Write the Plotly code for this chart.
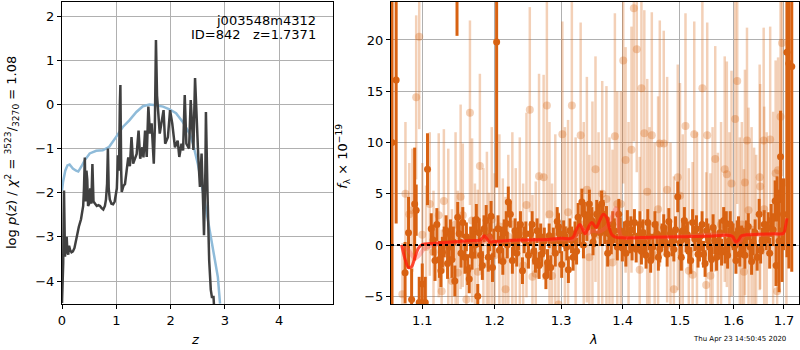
import plotly.graph_objects as go

# ---------------- left panel: p(z) ----------------
z_pz = [0.000, 0.010, 0.022, 0.030, 0.037, 0.045, 0.055, 0.070, 0.086, 0.100, 0.115, 0.130, 0.150, 0.175,
        0.200, 0.230, 0.260, 0.290, 0.310, 0.350, 0.390, 0.405, 0.420, 0.435, 0.450, 0.465, 0.480, 0.500,
        0.520, 0.540, 0.560, 0.580, 0.610, 0.640, 0.670, 0.700, 0.730, 0.760, 0.790, 0.810, 0.830, 0.845,
        0.860, 0.880, 0.910, 0.940, 0.970, 0.990, 1.010, 1.030, 1.050, 1.065, 1.075, 1.090, 1.100, 1.130,
        1.160, 1.190, 1.220, 1.250, 1.280, 1.310, 1.340, 1.375, 1.410, 1.440, 1.480, 1.500, 1.530, 1.560,
        1.590, 1.620, 1.650, 1.690, 1.710, 1.730, 1.750, 1.770, 1.800, 1.830, 1.870, 1.900, 1.950, 1.990,
        2.030, 2.080, 2.130, 2.160, 2.200, 2.230, 2.260, 2.290, 2.340, 2.370, 2.400, 2.420, 2.450, 2.480,
        2.510, 2.540, 2.570, 2.600, 2.615, 2.640, 2.650, 2.680, 2.710, 2.740, 2.760, 2.790, 2.810]
logp = [-4.5, -4.2, -3.6, -2.6, -1.95, -2.6, -3.45, -3.2, -3.0, -3.35, -3.4, -3.2, -3.3, -3.35,
        -3.33, -3.25, -3.05, -2.9, -2.77, -2.6, -2.3, -1.9, -1.2, -2.2, -1.5, -1.7, -2.3, -2.25,
        -1.9, -2.25, -1.35, -2.2, -2.25, -2.3, -2.28, -2.3, -2.35, -2.38, -2.3, -2.15, -1.8, -1.0,
        -1.9, -2.15, -2.25, -2.26, -2.2, -2.0, -1.9, -1.15, -1.5, 0.0, 0.44, -1.5, -1.98, -1.85,
        -1.8, -1.5, -1.2, -1.4, -0.74, -1.34, -1.25, -1.12, -0.59, -1.23, -0.97, -1.2, -0.59, -1.19,
        -0.05, -0.66, -0.43, -1.34, -0.5, 1.46, 0.2, -0.21, -0.66, -0.43, -0.13, -0.89, -0.74, -0.13,
        -0.43, -0.97, -0.82, -1.19, -0.89, -1.04, 0.21, -0.89, -1.0, 0.1, -0.6, -1.03, 0.6, -0.51,
        -1.2, -1.87, -1.11, -2.3, -2.96, -1.5, -0.17, -2.04, -3.53, -4.2, -4.36, -4.36, -4.8]

z_prior = [0.00, 0.02, 0.06, 0.10, 0.14, 0.20, 0.26, 0.30, 0.36, 0.42, 0.51, 0.63, 0.75, 0.87, 1.00,
           1.12, 1.24, 1.37, 1.49, 1.61, 1.73, 1.86, 1.98, 2.10, 2.22, 2.35, 2.41, 2.50, 2.59, 2.68,
           2.77, 2.87, 2.91]
logp_prior = [-1.95, -1.75, -1.5, -1.38, -1.36, -1.45, -1.5, -1.52, -1.4, -1.26, -1.11, -1.05, -1.04,
              -0.96, -0.73, -0.51, -0.36, -0.17, -0.04, 0.0, -0.02, -0.05, -0.11, -0.2, -0.39, -0.66,
              -0.88, -1.34, -1.94, -2.55, -3.23, -3.91, -4.51]

# ---------------- right panel: spectrum ----------------
lam_a = [1.0607, 1.066, 1.0775, 1.082, 1.086, 1.090, 1.092, 1.096, 1.100, 1.104, 1.107, 1.112, 1.117,
         1.123, 1.127, 1.132, 1.136, 1.140, 1.144, 1.147, 1.148, 1.150, 1.155, 1.158, 1.162, 1.166,
         1.170, 1.174, 1.176, 1.180, 1.185, 1.188, 1.191, 1.195, 1.199, 1.203, 1.207, 1.210, 1.214,
         1.217, 1.220, 1.223, 1.226, 1.230, 1.235, 1.241, 1.246, 1.250, 1.253, 1.258, 1.263, 1.266,
         1.270, 1.274, 1.279, 1.284, 1.288, 1.294, 1.298, 1.304, 1.309, 1.314, 1.319, 1.322, 1.327,
         1.330, 1.333, 1.337, 1.341, 1.345, 1.349, 1.353, 1.357, 1.361, 1.365, 1.370, 1.373, 1.377,
         1.381, 1.386, 1.391, 1.396, 1.403, 1.408, 1.412, 1.416, 1.420, 1.427, 1.432, 1.437, 1.443,
         1.448, 1.452, 1.459, 1.464, 1.468, 1.471, 1.477, 1.483, 1.489, 1.496, 1.500, 1.505, 1.511,
         1.516, 1.523, 1.527, 1.533, 1.538, 1.543, 1.549, 1.554, 1.558, 1.564, 1.571, 1.577, 1.581,
         1.586, 1.591, 1.596, 1.602, 1.607, 1.612, 1.619, 1.625, 1.632, 1.638, 1.646, 1.650, 1.656,
         1.664, 1.668, 1.674, 1.682, 1.686, 1.690, 1.693, 1.696, 1.699, 1.706, 1.710, 1.716]
flux_a = [10.0, 16.1, -2.7, 1.2, -5.3, 4.0, 3.4, -5.6, -3.8, -5.6, 7.4, 1.6, -1.5,
          -1.4, -0.7, 1.4, -0.2, -1.4, -3.5, 25.0, 2.7, 1.1, 2.2, -1.2, -2.4, 0.4,
          1.4, 2.5, -5.0, -1.0, 1.6, 2.4, -1.2, 2.8, 0.2, 19.8, -0.5, 0.6, 1.2,
          2.1, 4.2, 3.0, -1.5, 1.4, 0.9, -2.5, 1.1, -1.0, 1.1, -0.6, 1.4, -2.0,
          -0.9, 0.4, -1.7, -2.2, 0.4, 2.3, 0.4, 1.1, -0.2, 1.4, -1.2, 1.1, 2.7,
          1.4, 4.2, 3.0, 1.7, 4.0, 2.4, 1.1, 3.0, 2.7, 4.0, 1.4, 2.5, 1.1,
          0.4, 1.4, -0.2, 1.4, 1.1, 2.1, 0.4, -0.2, 2.2, 0.9, -0.6, 0.3, 2.2,
          -1.5, -0.2, 1.1, -0.4, 0.9, 1.7, -0.9, 1.1, -0.4, 4.7, 0.2, 1.4, 0.6,
          -0.6, 2.2, 0.6, -0.9, 0.9, -0.9, 1.4, -0.1, -1.4, 0.4, -0.2, -0.7, 2.4,
          2.1, 0.4, 1.1, -0.1, 1.1, -0.9, 0.4, 1.1, -0.2, 0.3, -1.2, 3.0, 0.4,
          0.9, 1.7, 2.4, 4.3, 4.5, 0.4, 8.6, 1.4, 3.0, 18.8, 17.7, 17.4]
err_a = [30.0, 14.0, 3.0, 3.5, 3.0, 5.5, 2.5, 2.5, 2.0, 2.5, 3.5, 1.5, 2.0,
         1.8, 1.5, 1.5, 1.6, 1.8, 1.5, 4.6, 1.5, 1.2, 1.5, 1.6, 1.5, 1.4,
         1.3, 1.5, 1.2, 1.5, 1.3, 1.5, 1.4, 1.5, 1.4, 14.2, 1.3, 1.2, 1.3,
         1.2, 1.5, 1.3, 1.3, 1.2, 1.4, 1.3, 1.2, 1.3, 1.2, 1.3, 1.2, 1.3,
         1.2, 1.3, 1.3, 1.2, 1.3, 1.4, 1.2, 1.3, 1.3, 1.2, 1.3, 1.2, 1.4,
         1.3, 1.3, 1.2, 1.3, 1.4, 1.3, 1.3, 1.4, 1.3, 1.3, 1.3, 1.3, 1.2,
         1.3, 1.2, 1.3, 1.3, 1.2, 1.3, 1.2, 1.3, 1.3, 1.2, 1.3, 1.2, 1.3,
         1.2, 1.3, 1.2, 1.3, 1.2, 1.3, 1.2, 1.3, 1.2, 1.5, 1.3, 1.2, 1.3,
         1.2, 1.3, 1.2, 1.3, 1.2, 1.3, 1.2, 1.3, 1.2, 1.3, 1.2, 1.3, 1.3,
         1.2, 1.3, 1.2, 1.3, 1.3, 1.2, 1.3, 1.3, 1.2, 1.3, 1.3, 1.5, 1.3,
         1.4, 1.5, 1.6, 2.0, 2.2, 5.0, 4.5, 5.0, 3.5, 20.0, 20.0, 20.0]

# second set of the same grism (interleaved pixels)
lam_a2 = [1.1145, 1.1195, 1.1250, 1.1295, 1.1340, 1.1380, 1.1420, 1.1525, 1.1600, 1.1640, 1.1680,
          1.1720, 1.1780, 1.1825, 1.1930, 1.1970, 1.2050, 1.2120, 1.2185, 1.2280, 1.2325, 1.2380,
          1.2435, 1.2555, 1.2605, 1.2685, 1.2765, 1.2815, 1.2910, 1.2960, 1.3010, 1.3065, 1.3115,
          1.3165, 1.3245, 1.3355, 1.3430, 1.3510, 1.3630, 1.3675, 1.3750, 1.3835, 1.3935, 1.3995,
          1.4055, 1.4140, 1.4230, 1.4295, 1.4345, 1.4400, 1.4455, 1.4555, 1.4615, 1.4740, 1.4800,
          1.4860, 1.4920, 1.5025, 1.5080, 1.5135, 1.5195, 1.5300, 1.5355, 1.5405, 1.5460, 1.5515,
          1.5610, 1.5675, 1.5740, 1.5835, 1.5885, 1.5935, 1.5990, 1.6045, 1.6095, 1.6155, 1.6220,
          1.6285, 1.6350, 1.6420, 1.6530, 1.6600, 1.6710, 1.6780, 1.6840]
flux_a2 = [0.5, 2.0, -2.5, 0.3, -1.8, 1.0, 0.3, -0.8, 0.8, -3.3, -1.0,
           0.0, 1.2, -2.0, 0.8, -2.2, 1.6, -1.6, 0.0, 0.3, -0.8, 2.0,
           0.5, 2.0, -1.5, 0.8, -3.0, 0.9, -0.8, 1.8, -1.9, 0.6, -2.4,
           0.5, -0.6, 0.0, 2.8, 0.3, 1.2, 3.0, -0.8, 2.0, 3.0, -0.3,
           -0.8, 1.5, -0.4, 2.0, 1.2, -1.0, 0.8, 2.0, -1.2, 0.3, 2.3,
           0.2, 1.5, -1.2, 2.4, 1.0, -1.5, 1.6, -0.3, 2.0, -1.8, 0.8,
           1.7, -1.2, 1.2, -0.5, -1.0, 2.0, 0.8, -1.5, 1.5, 0.6, -1.0,
           1.8, -1.6, 1.2, -0.5, 2.0, -0.8, 1.5, -2.0]
err_a2 = [1.5, 1.6, 1.6, 1.5, 1.5, 1.5, 1.5, 1.4, 1.4, 1.4, 1.4,
          1.3, 1.4, 1.4, 1.4, 1.4, 1.3, 1.3, 1.3, 1.3, 1.3, 1.3,
          1.3, 1.3, 1.2, 1.3, 1.3, 1.2, 1.3, 1.3, 1.3, 1.2, 1.3,
          1.3, 1.3, 1.3, 1.3, 1.3, 1.3, 1.4, 1.3, 1.3, 1.5, 1.3,
          1.3, 1.3, 1.3, 1.3, 1.3, 1.3, 1.3, 1.3, 1.3, 1.3, 1.3,
          1.3, 1.3, 1.3, 1.3, 1.3, 1.3, 1.3, 1.3, 1.3, 1.3, 1.3,
          1.3, 1.3, 1.3, 1.3, 1.3, 1.3, 1.3, 1.3, 1.3, 1.3, 1.3,
          1.3, 1.3, 1.3, 1.3, 1.4, 1.5, 1.6, 2.0]

lam_b = [1.074, 1.078, 1.083, 1.087, 1.092, 1.096, 1.100, 1.105, 1.110, 1.115, 1.122, 1.126, 1.129,
         1.135, 1.140, 1.145, 1.148, 1.152, 1.155, 1.160, 1.165, 1.168, 1.172, 1.176, 1.179, 1.184,
         1.189, 1.192, 1.196, 1.200, 1.207, 1.212, 1.216, 1.220, 1.226, 1.231, 1.237, 1.242, 1.247,
         1.252, 1.256, 1.261, 1.266, 1.273, 1.278, 1.282, 1.286, 1.291, 1.296, 1.302, 1.306, 1.311,
         1.317, 1.323, 1.331, 1.336, 1.341, 1.345, 1.350, 1.355, 1.360, 1.366, 1.373, 1.378, 1.383,
         1.387, 1.391, 1.397, 1.401, 1.405, 1.410, 1.415, 1.419, 1.424, 1.429, 1.432, 1.437, 1.442,
         1.446, 1.450, 1.455, 1.461, 1.464, 1.471, 1.477, 1.483, 1.489, 1.496, 1.500, 1.505, 1.510,
         1.516, 1.523, 1.526, 1.531, 1.541, 1.548, 1.550, 1.556, 1.560, 1.565, 1.570, 1.576, 1.583,
         1.587, 1.592, 1.596, 1.603, 1.607, 1.612, 1.616, 1.620, 1.622, 1.626, 1.629, 1.635, 1.640,
         1.644, 1.651, 1.652, 1.659, 1.660, 1.665, 1.672, 1.678, 1.683, 1.686, 1.688, 1.693, 1.696,
         1.705]
flux_b = [-4.8, 5.0, 3.0, 3.4, 14.4, 20.3, 1.0, -0.2, 4.0, -0.7, 2.9, -4.5, 4.3,
          1.4, -3.5, 2.0, -2.7, 4.7, 2.9, -5.3, 12.9, 2.4, -1.0, -2.6, 7.7, 0.5,
          1.1, -1.9, 2.5, -1.0, 1.8, -1.5, -4.3, 0.8, 2.0, -0.5, 1.5, -2.0, 3.9,
          13.2, -3.1, -2.8, 6.7, 6.6, 13.6, 3.0, -3.0, 0.8, -5.8, 10.8, 1.5, 3.2,
          13.6, 0.5, 10.7, 2.0, 5.4, -1.2, 3.0, 7.4, 1.0, 5.0, 4.5, 0.5, -1.7,
          10.6, 4.0, 4.0, 18.0, 8.3, 1.0, 9.3, 23.1, 19.1, -2.4, 15.3, 10.9, 5.2,
          0.5, 10.7, -1.0, 3.5, 9.9, 9.9, 5.4, 0.0, -4.3, 6.6, 4.8, 0.8, 11.6,
          -2.5, -2.9, 10.8, 1.0, 15.3, -3.9, 10.7, -3.0, 1.5, 8.4, -1.0, 2.0, 7.4,
          6.9, 1.0, 6.0, 12.3, 16.0, 0.5, 2.0, -2.6, 6.1, 10.2, 3.4, 1.5, -0.5,
          -1.2, 6.6, 5.7, 10.2, 3.5, 1.0, 10.3, 2.0, 7.0, -4.5, 7.3, 12.5, 19.7,
          6.1]
err_b = [5, 7, 5, 6, 8, 9, 7, 6, 7, 6, 8, 6, 7,
         8, 7, 9, 8, 9, 7, 7, 9, 8, 7, 8, 9, 7,
         8, 7, 9, 8, 9, 8, 9, 8, 9, 8, 9, 8, 9,
         10, 8, 9, 10, 10, 11, 9, 9, 10, 9, 11, 10, 9,
         11, 10, 11, 10, 11, 10, 11, 11, 10, 11, 11, 10, 11,
         12, 11, 11, 12, 11, 11, 12, 13, 12, 11, 12, 12, 11,
         11, 12, 11, 11, 12, 11, 11, 10, 11, 11, 11, 10, 11,
         10, 11, 11, 10, 12, 11, 11, 10, 10, 11, 10, 10, 11,
         11, 10, 11, 12, 12, 10, 10, 10, 11, 11, 10, 10, 10,
         10, 11, 10, 11, 10, 10, 11, 11, 11, 11, 11, 12, 13,
         13]

model_lam = [1.073, 1.078, 1.082, 1.086, 1.090, 1.095, 1.100, 1.110, 1.120, 1.130, 1.150, 1.170, 1.180,
             1.185, 1.189, 1.193, 1.200, 1.220, 1.250, 1.280, 1.300, 1.318, 1.324, 1.330, 1.338, 1.344,
             1.349, 1.356, 1.362, 1.368, 1.373, 1.378, 1.382, 1.389, 1.400, 1.450, 1.500, 1.550, 1.596,
             1.600, 1.604, 1.609, 1.615, 1.625, 1.650, 1.680, 1.699, 1.703, 1.706]
model_flux = [0.0, -1.5, -2.2, -2.1, -1.3, -0.3, 0.05, 0.15, 0.2, 0.25, 0.35, 0.45, 0.5,
              0.9, 0.6, 0.3, 0.35, 0.45, 0.5, 0.55, 0.65, 0.7, 1.5, 2.0, 1.1, 1.8,
              2.2, 1.7, 2.4, 3.0, 2.7, 1.6, 1.0, 0.75, 0.7, 0.75, 0.8, 0.85, 0.9,
              0.7, 0.3, 0.45, 0.9, 1.0, 1.05, 1.1, 1.15, 1.8, 2.6]

model2_lam = [1.075, 1.082, 1.090, 1.096, 1.102, 1.110, 1.130, 1.160, 1.185, 1.192, 1.197, 1.202, 1.210,
              1.250, 1.300, 1.320, 1.328, 1.335, 1.342, 1.350, 1.360, 1.370, 1.378, 1.384, 1.389, 1.393,
              1.398, 1.420, 1.500, 1.595, 1.600, 1.605, 1.612, 1.620, 1.660, 1.700]
model2_flux = [0.0, -0.5, -1.3, -1.0, -0.4, -0.1, 0.15, 0.3, 0.4, 0.9, 0.4, 0.1, 0.35,
               0.45, 0.55, 0.6, 1.2, 1.6, 1.1, 1.4, 1.3, 1.6, 2.2, 3.0, 3.6, 2.0,
               0.8, 0.7, 0.8, 0.9, 0.4, 0.1, 0.3, 0.9, 1.0, 1.1]

z_ticks = [0, 1, 2, 3, 4]
lp_ticks = [-4, -3, -2, -1, 0, 1, 2]
lam_ticks = [1.1, 1.2, 1.3, 1.4, 1.5, 1.6, 1.7]
flux_ticks = [-5, 0, 5, 10, 15, 20]

FONT = "DejaVu Sans"
ORANGE = "rgb(216,98,18)"
ORANGE_L = "rgba(216,98,18,0.3)"

fig = go.Figure()

fig.add_trace(go.Scatter(x=z_prior, y=logp_prior, mode="lines", xaxis="x", yaxis="y",
                         line=dict(color="rgb(143,187,217)", width=2.5), showlegend=False))
fig.add_trace(go.Scatter(x=z_pz, y=logp, mode="lines", xaxis="x", yaxis="y",
                         line=dict(color="rgb(64,64,64)", width=2.5), showlegend=False))

fig.add_trace(go.Scatter(x=lam_b, y=flux_b, mode="markers", xaxis="x2", yaxis="y2",
                         marker=dict(color=ORANGE_L, size=8),
                         error_y=dict(type="data", array=err_b, color=ORANGE_L, thickness=2.5, width=0),
                         showlegend=False))
for lx, fx, ex in [(lam_a, flux_a, err_a), (lam_a2, flux_a2, err_a2)]:
    fig.add_trace(go.Scatter(x=lx, y=fx, mode="markers", xaxis="x2", yaxis="y2",
                             marker=dict(color=ORANGE, size=7),
                             error_y=dict(type="data", array=ex, color=ORANGE, thickness=3, width=0),
                             showlegend=False))
fig.add_trace(go.Scatter(x=model2_lam, y=model2_flux, mode="lines", xaxis="x2", yaxis="y2",
                         line=dict(color="rgba(255,80,80,0.35)", width=4, shape="spline"),
                         showlegend=False))
fig.add_trace(go.Scatter(x=model_lam, y=model_flux, mode="lines", xaxis="x2", yaxis="y2",
                         line=dict(color="rgba(255,30,10,0.8)", width=3, shape="spline"),
                         showlegend=False))

axis_common = dict(showline=True, linecolor="black", linewidth=1, mirror=True, ticks="outside",
                   ticklen=4, tickcolor="black", showgrid=True, gridcolor="#b0b0b0", gridwidth=1,
                   zeroline=False, automargin=False,
                   tickfont=dict(family=FONT, size=13, color="black"))

fig.update_layout(
    width=800, height=350,
    margin=dict(l=62, r=1, t=2, b=46),
    paper_bgcolor="white", plot_bgcolor="white",
    font=dict(family=FONT, size=13, color="black"),
    xaxis=dict(domain=[0, 0.3677], range=[0, 4.99], tickvals=z_ticks,
               ticktext=[str(v) for v in z_ticks], **axis_common),
    yaxis=dict(domain=[0, 1], range=[-4.52, 2.32], tickvals=lp_ticks,
               ticktext=[str(v).replace("-", "\u2212") for v in lp_ticks], **axis_common),
    xaxis2=dict(domain=[0.4464, 1.0], type="log", range=[0.02506, 0.2383], anchor="y2",
                tickvals=lam_ticks, ticktext=[str(v) for v in lam_ticks], **axis_common),
    yaxis2=dict(domain=[0, 1], range=[-5.75, 23.7], anchor="x2", tickvals=flux_ticks,
                ticktext=[str(v).replace("-", "\u2212") for v in flux_ticks], **axis_common),
)

fig.add_shape(type="line", xref="x2 domain", yref="y2", x0=0, x1=1, y0=0, y1=0,
              line=dict(color="black", width=2, dash="dot"))

ann = [
    dict(text="j003548m4312", x=0.3474, y=0.94, xanchor="right", yanchor="middle"),
    dict(text="ID=842\u00a0\u00a0\u00a0z=1.7371", x=0.3474, y=0.891, xanchor="right", yanchor="middle"),
    dict(text="<i>z</i>", x=0.1818, y=-0.119, xanchor="center", yanchor="middle"),
    dict(text="<i>λ</i>", x=0.7218, y=-0.119, xanchor="center", yanchor="middle"),
    dict(text="log <i>p</i>(<i>z</i>) / <i>χ</i><sup>2</sup> = <sup>3523</sup>/<sub>3270</sub> = 1.08",
         x=-0.0678, y=0.5, xanchor="center", yanchor="middle", textangle=-90),
    dict(text="<i>f</i><sub>λ</sub> × 10<sup>−19</sup>", x=0.381, y=0.49, xanchor="center",
         yanchor="middle", textangle=-90),
]
for a in ann:
    fig.add_annotation(xref="paper", yref="paper", showarrow=False,
                       font=dict(family=FONT, size=13, color="black"), **a)
fig.add_annotation(xref="paper", yref="paper", showarrow=False, text="Thu Apr 23 14:50:45 2020",
                   x=0.985, y=-0.116, xanchor="right", yanchor="middle",
                   font=dict(family=FONT, size=7, color="black"))

fig.write_html("out.html", config={"displayModeBar": False},
               post_script="document.body.style.margin='0';document.body.style.overflow='hidden';")
